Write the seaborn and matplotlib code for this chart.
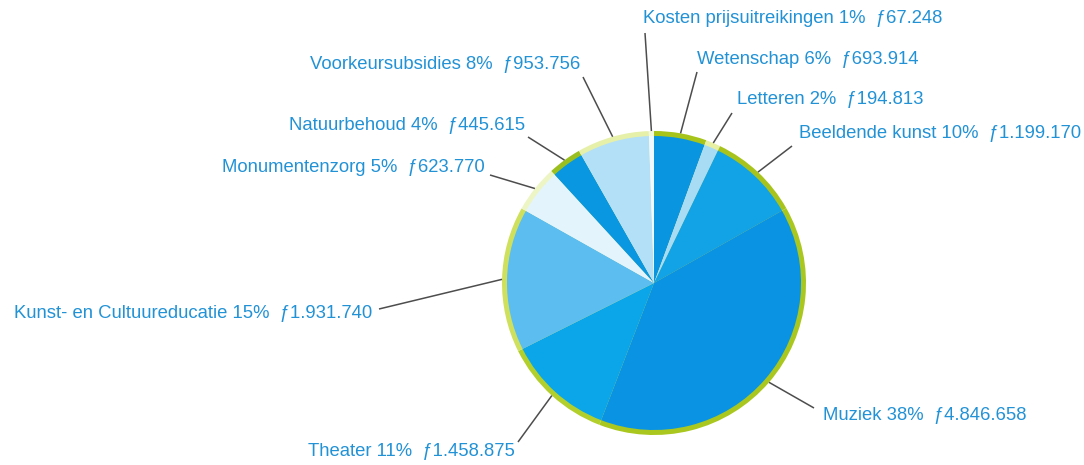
import matplotlib.pyplot as plt
import seaborn as sns
import numpy as np

# data, clockwise from 12 o'clock
categories = ["Wetenschap", "Letteren", "Beeldende kunst", "Muziek", "Theater",
              "Kunst- en Cultuureducatie", "Monumentenzorg", "Natuurbehoud",
              "Voorkeursubsidies", "Kosten prijsuitreikingen"]
amounts = [693914, 194813, 1199170, 4846658, 1458875,
           1931740, 623770, 445615, 953756, 67248]
percent_labels = [6, 2, 10, 38, 11, 15, 5, 4, 8, 1]
amount_labels = ["693.914", "194.813", "1.199.170", "4.846.658", "1.458.875",
                 "1.931.740", "623.770", "445.615", "953.756", "67.248"]

slice_colors = ["#0a95e0", "#a8dcf5", "#12a3e7", "#0a93e3", "#0ba6e9",
                "#5bbdf0", "#e4f4fc", "#0897e0", "#b3e0f7", "#f0f9fe"]
rim_colors = ["#a6c41a", "#e8f0a4", "#a8c41c", "#a9c71e", "#b2cf2c",
              "#cfe05c", "#eef5c4", "#9cbf20", "#e6f0a8", "#f4f8dc"]

# label layout in pixels (x, y from top), text anchor + leader line end
label_xy = [(697, 60), (737, 100), (799, 134), (823, 416), (515, 452),
            (372, 313), (485, 168), (525, 125), (580, 65), (643, 19)]
label_ha = ["left", "left", "left", "left", "right",
            "right", "right", "right", "right", "left"]
line_end = [(697, 72), (732, 113), (792, 146), (814, 408), (518, 442),
            (379, 309), (490, 175), (528, 137), (583, 77), (645, 33)]

W, H = 1084, 465
cx, cy = 654, 283
r_out, r_in = 152, 147

sns.set_theme(style="white")
plt.rcParams["font.family"] = ["Liberation Sans", "DejaVu Sans"]

fig = plt.figure(figsize=(W / 100, H / 100), dpi=100)
ax = fig.add_axes([0, 0, 1, 1])

center = (cx, H - cy)
rim, _ = ax.pie(amounts, colors=rim_colors, radius=r_out, center=center,
                startangle=90, counterclock=False, wedgeprops=dict(linewidth=0))
ax.pie(amounts, colors=slice_colors, radius=r_in, center=center,
       startangle=90, counterclock=False, wedgeprops=dict(linewidth=0))

for i, w in enumerate(rim):
    mid = np.deg2rad((w.theta1 + w.theta2) / 2)
    px, py = center[0] + r_out * np.cos(mid), center[1] + r_out * np.sin(mid)
    ex, ey = line_end[i]
    ax.plot([px, ex], [py, H - ey], color="#4d4d4d", lw=1.1, solid_capstyle="butt")
    tx, ty = label_xy[i]
    ax.text(tx, H - ty, f"{categories[i]} {percent_labels[i]}%  \u0192{amount_labels[i]}",
            ha=label_ha[i], va="center", fontsize=13.3, color="#2292d6")

ax.set_xlim(0, W)
ax.set_ylim(0, H)
ax.set_aspect("equal")
ax.axis("off")

fig.savefig("out.png", dpi=100, facecolor="white")
